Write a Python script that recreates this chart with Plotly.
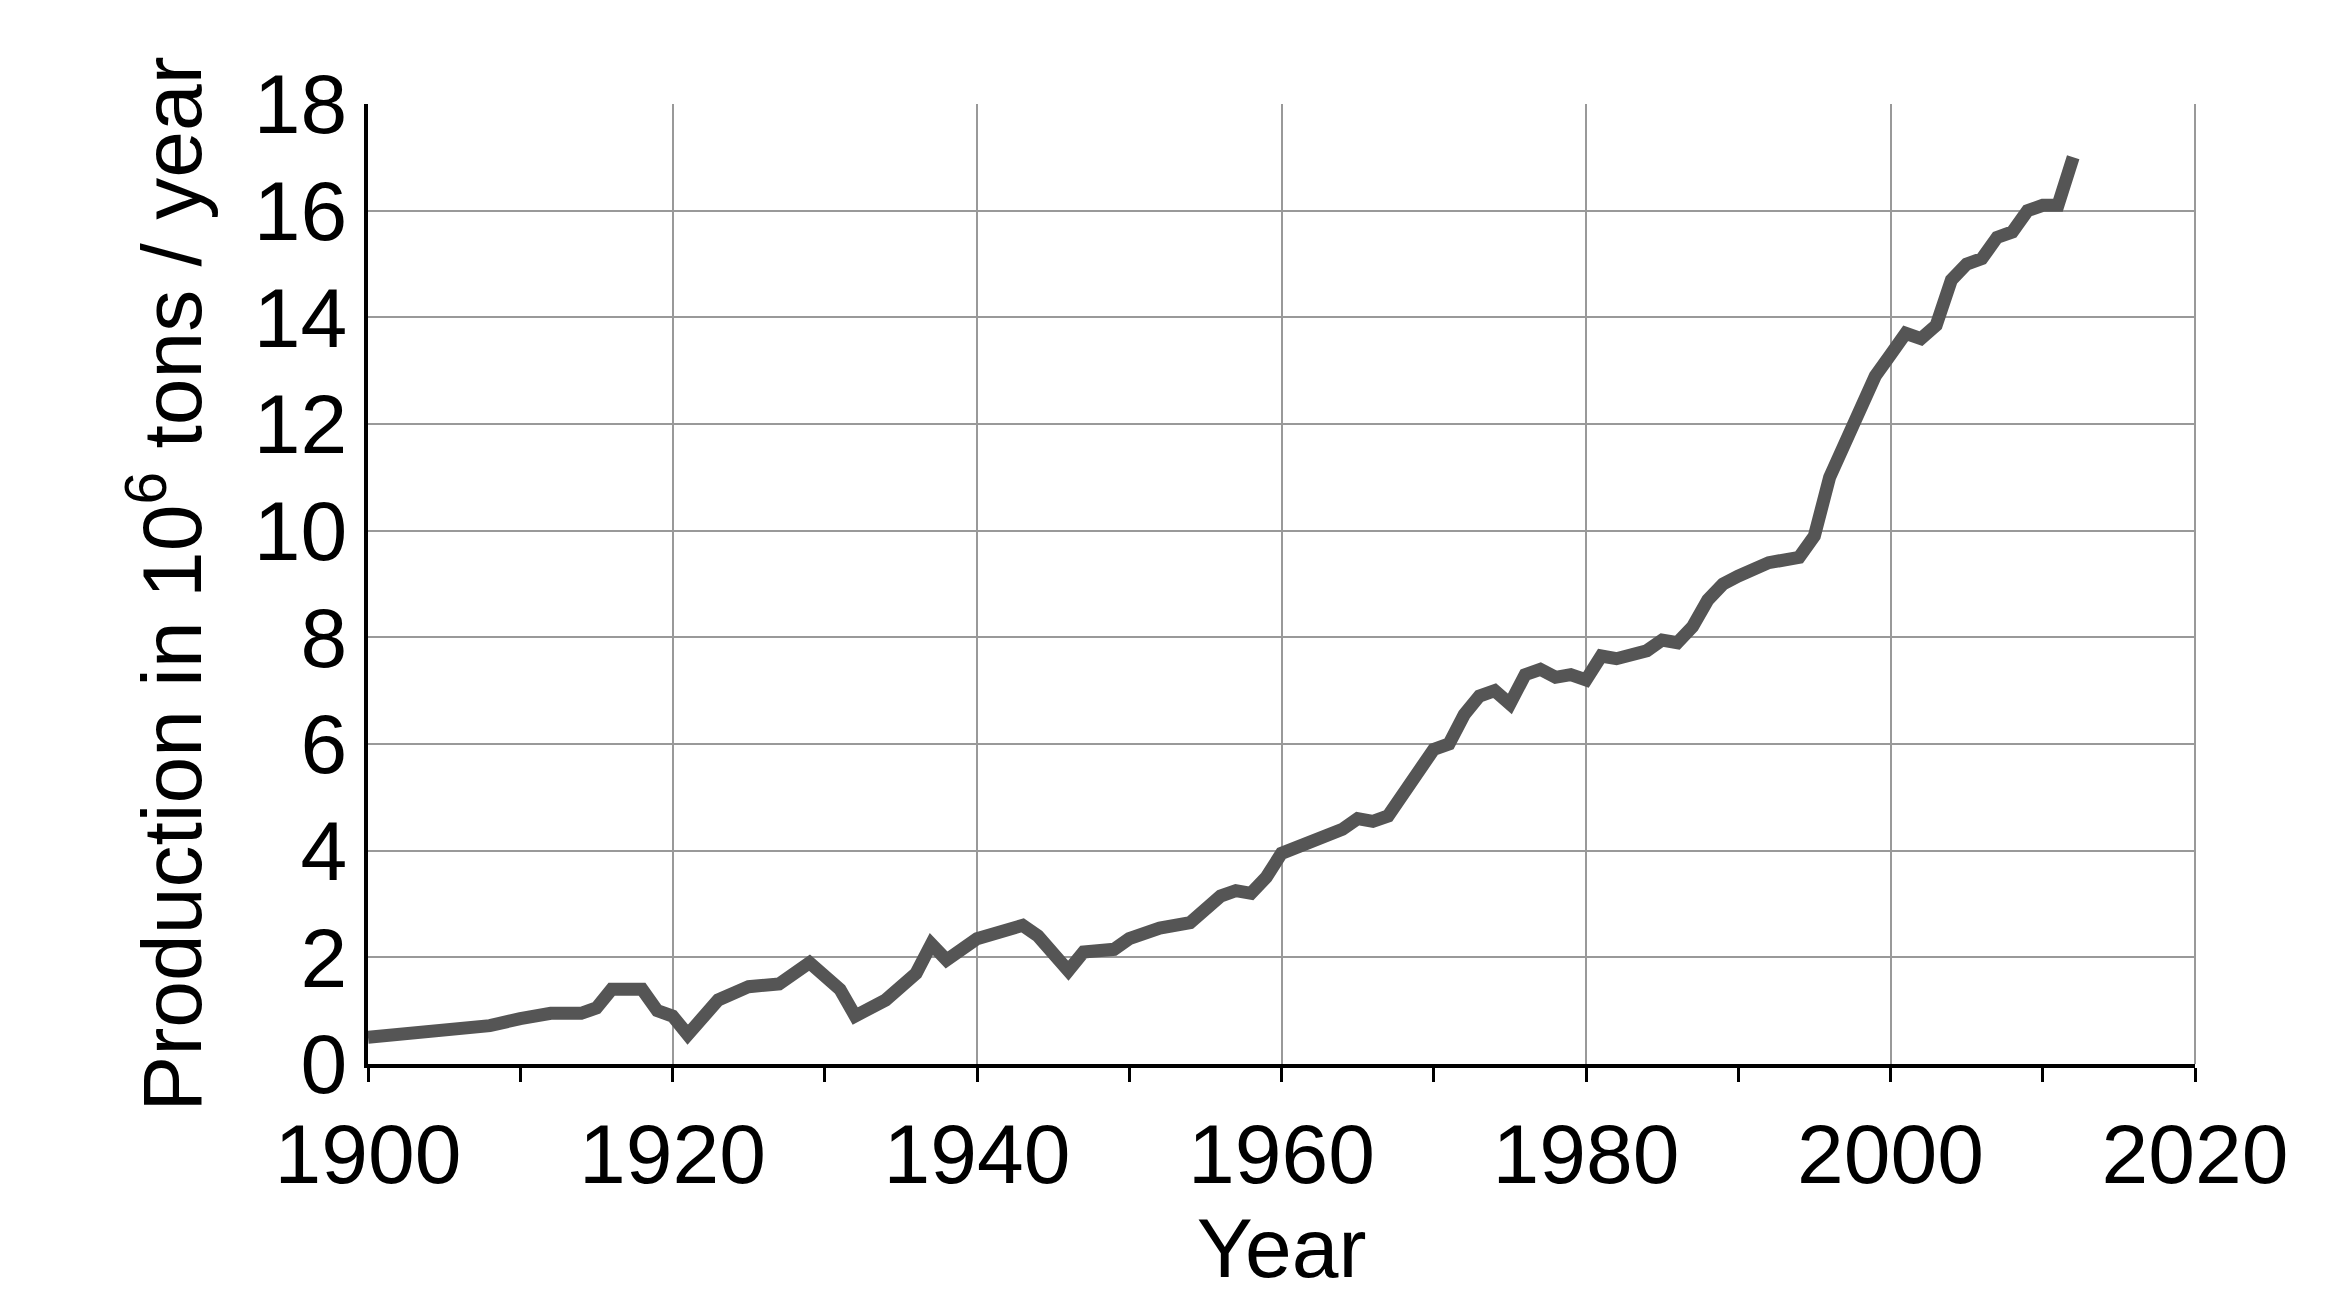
import plotly.graph_objects as go

years = [1900,1902,1904,1906,1908,1910,1912,1914,1915,1916,1918,1919,1920,1921,1923,1925,1927,1929,1931,1932,1934,1936,1937,1938,1940,1943,1944,1946,1947,1949,1950,1952,1954,1956,1957,1958,1959,1960,1962,1964,1965,1966,1967,1968,1969,1970,1971,1972,1973,1974,1975,1976,1977,1978,1979,1980,1981,1982,1984,1985,1986,1987,1988,1989,1990,1992,1994,1995,1996,1997,1998,1999,2000,2001,2002,2003,2004,2005,2006,2007,2008,2009,2010,2011,2012]
production = [0.5,0.55,0.65,0.7,0.72,0.85,0.95,0.95,1.05,1.4,1.4,1.0,0.9,0.55,1.2,1.45,1.5,1.9,1.4,0.9,1.2,1.7,2.25,1.95,2.35,2.6,2.4,1.75,2.1,2.15,2.35,2.55,2.65,3.15,3.25,3.2,3.5,3.95,4.2,4.4,4.6,4.55,4.65,5.1,5.5,5.9,6.0,6.55,6.9,7.0,6.75,7.3,7.4,7.25,7.3,7.2,7.65,7.6,7.75,7.95,7.9,8.2,8.7,9.0,9.15,9.4,9.5,9.9,11.0,11.6,12.3,12.9,13.3,13.7,13.6,13.85,14.7,15.0,15.1,15.5,15.6,16.0,16.1,16.1,17.0]

x_ticks = [1900,1920,1940,1960,1980,2000,2020]
y_ticks = [0,2,4,6,8,10,12,14,16,18]

fig = go.Figure(go.Scatter(x=years, y=production, mode="lines",
                           line=dict(color="#555555", width=13)))
font = dict(family="Liberation Sans, Arial, sans-serif", size=84, color="black")
fig.update_layout(
    width=2334, height=1314, plot_bgcolor="white", paper_bgcolor="white",
    margin=dict(l=360, r=147, t=96, b=258), showlegend=False, font=font,
)
fig.update_xaxes(range=[1900, 2020], tickvals=x_ticks, showgrid=True, gridcolor="#999999", gridwidth=2,
                 showline=True, linecolor="black", linewidth=4, ticks="outside", ticklen=14, tickwidth=3,
                 tickcolor="black", minor=dict(dtick=10, ticks="outside", ticklen=14, tickwidth=3, tickcolor="black", showgrid=False),
                 title=dict(text="Year", font=font, standoff=2), zeroline=False, mirror=False)
fig.update_yaxes(range=[0, 18], tickvals=y_ticks, showgrid=True, gridcolor="#999999", gridwidth=2,
                 showline=True, linecolor="black", linewidth=4, ticks="", zeroline=False,
                 title=dict(text="Production in 10<sup>6</sup> tons / year", font=font, standoff=25))
fig.add_shape(type="line", xref="paper", yref="paper", x0=1, x1=1, y0=0, y1=1, line=dict(color="#999999", width=2))
fig.write_html("out.html")
